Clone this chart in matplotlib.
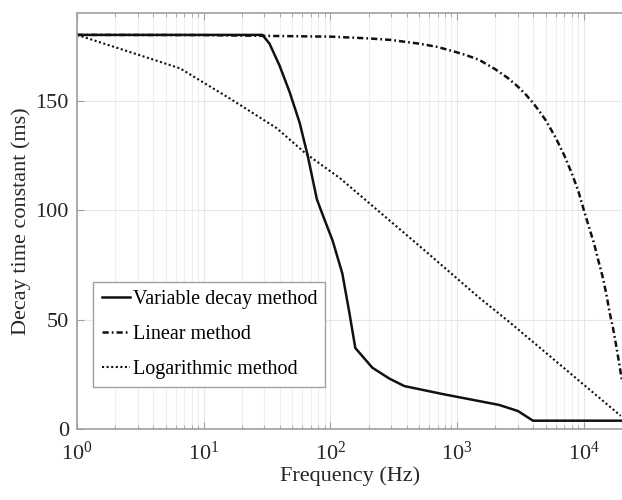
import numpy as np
from matplotlib import pyplot as plt
from matplotlib.ticker import LogLocator, NullFormatter

# values
freq_var = [1, 29, 33, 39.6, 47.5, 57, 66, 78, 86.5, 104, 124, 141, 157,
            214, 292, 383, 762, 2140, 3020, 3965, 20000]
tau_var = [180, 180, 176, 166, 154, 140, 125, 105, 98, 86, 71, 53, 37,
           28, 23, 19.6, 16, 11, 8.2, 3.8, 3.8]

freq_lin = [1, 10, 100, 200, 300, 500, 700, 1000, 1200, 1500, 2000, 2500,
            3000, 3500, 4000, 4500, 5000, 6000, 7000, 8000, 9000, 10000,
            11000, 12000, 13000, 14000, 15000, 16000, 17000, 18000, 19000,
            20000]
tau_lin = [180, 179.9, 179.2, 178.4, 177.7, 176, 174.5, 172, 170.6, 168.5,
           164.3, 160.4, 156.5, 152.6, 148.7, 144.8, 141, 133, 125, 117,
           109, 100, 92, 85, 77, 70, 62, 53, 46, 38, 30, 22]

freq_log = [1, 3.76, 6.5, 16, 37.6, 64.7, 118, 530, 1490, 2565, 19550]
tau_log = [180, 169.2, 164.7, 151, 137.4, 125.5, 114.7, 82.5, 60, 49, 6]

labels = ['Variable decay method', 'Linear method', 'Logarithmic method']

plt.rcParams['font.family'] = ['Liberation Serif', 'DejaVu Serif']

fig = plt.figure(figsize=(6.22, 5), dpi=100)
ax = fig.add_axes([0.124, 0.142, 0.876, 0.832])

ax.plot(freq_var, tau_var, color='#111111', lw=1.8, linestyle='-', label=labels[0])
ax.plot(freq_lin, tau_lin, color='#111111', lw=1.8,
        linestyle=(0, (2.5, 1.2, 0.7, 1.2)), label=labels[1])
ax.plot(freq_log, tau_log, color='#111111', lw=1.5, linestyle=(0, (1, 1.2)),
        label=labels[2])

ax.set_xscale('log')
ax.set_xlim(1, 2e4)
ax.set_ylim(0, 190)
ax.set_yticks([0, 50, 100, 150])
ax.xaxis.set_major_locator(LogLocator(base=10, numticks=10))
ax.xaxis.set_minor_locator(LogLocator(base=10, subs=np.arange(2, 10), numticks=20))
ax.xaxis.set_minor_formatter(NullFormatter())

ax.grid(True, which='major', color='#e6e6e6', lw=0.8)
ax.grid(True, which='minor', axis='x', color='#eeeeee', lw=0.8)
ax.set_axisbelow(True)

for s in ['left', 'bottom', 'top']:
    ax.spines[s].set_color('#a0a0a0')
    ax.spines[s].set_linewidth(1.2)
ax.spines['right'].set_visible(False)

ax.tick_params(which='both', direction='in', top=True, right=False,
               colors='#a0a0a0', labelcolor='#262626', labelsize=16)
ax.tick_params(which='major', length=5)
ax.tick_params(which='minor', length=3)
ax.tick_params(axis='x', which='major', pad=9)
ax.tick_params(axis='y', which='major', pad=6)

ax.set_xlabel('Frequency (Hz)', fontsize=16, color='#262626', labelpad=1)
ax.set_ylabel('Decay time constant (ms)', fontsize=16, color='#262626', labelpad=3)

leg = ax.legend(loc='lower left', bbox_to_anchor=(0.03, 0.1), fontsize=14.5,
                handlelength=1.4, handletextpad=0.15, borderpad=0.4,
                labelspacing=0.8, fancybox=False, framealpha=1,
                edgecolor='#a0a0a0', borderaxespad=0)
leg.get_frame().set_linewidth(1.0)

plt.savefig('out.png', dpi=100)
